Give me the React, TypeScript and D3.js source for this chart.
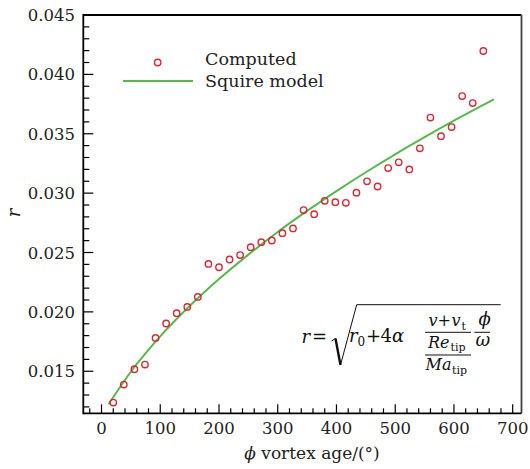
import React from "react";
import * as d3 from "d3";

const phiComputed = [20, 38, 56, 74, 92, 110, 128, 146, 164, 182, 200, 218, 236, 254, 272, 290, 308, 326, 344, 362, 380, 398, 416, 434, 452, 470, 488, 506, 524, 542, 560, 578, 596, 614, 632, 650];
const rComputed = [0.01236, 0.01388, 0.01517, 0.01556, 0.01781, 0.01902, 0.01989, 0.02042, 0.02126, 0.02404, 0.02376, 0.02441, 0.02478, 0.02545, 0.02587, 0.02601, 0.02663, 0.02703, 0.02857, 0.02823, 0.02935, 0.02924, 0.02918, 0.03003, 0.03099, 0.03056, 0.03211, 0.03259, 0.0320, 0.03377, 0.03636, 0.0348, 0.03556, 0.03817, 0.03758, 0.04197];

const phiModel = [12, 50, 100, 150, 200, 250, 300, 350, 400, 450, 500, 550, 600, 650, 668];
const rModel = [0.01222, 0.01496, 0.01794, 0.02049, 0.02276, 0.02482, 0.02673, 0.0285, 0.03017, 0.03176, 0.03327, 0.03471, 0.0361, 0.03743, 0.0379];

const xMajorTicks = [0, 100, 200, 300, 400, 500, 600, 700];
const yMajorTicks = [0.015, 0.02, 0.025, 0.03, 0.035, 0.04, 0.045];
const yTickLabels = ["0.015", "0.020", "0.025", "0.030", "0.035", "0.040", "0.045"];

const seriesNames = ["Computed", "Squire model"];
const xTitle = "vortex age/(°)";
const yTitle = "r";

const W = 530, H = 469;
const L = 83.3, R = 521.5, T = 15, B = 413.3;
const RED = "#d42a35";
const GREEN = "#55b84a";
const FONT = "'DejaVu Serif', serif";

export default function App() {
  const x = d3.scaleLinear().domain([-31, 715]).range([L, R]);
  const y = d3.scaleLinear().domain([0.01146, 0.045]).range([B, T]);

  const xMinor = d3.range(-20, 701, 20).filter((v) => v % 100 !== 0);
  const yMinor = d3.range(12, 45, 1).map((v) => v / 1000).filter((v) => Math.round(v * 1000) % 5 !== 0);

  const line = d3
    .line<number>()
    .x((_, i) => x(phiModel[i]))
    .y((d) => y(d))
    .curve(d3.curveMonotoneX);

  const txt = { fontFamily: FONT };

  return (
    <svg width={W} height={H} style={{ position: "absolute", left: 0, top: 0, fontFamily: FONT }}>
      <rect x={0} y={0} width={W} height={H} fill="#fff" />
      <path d={line(rModel) || ""} fill="none" stroke={GREEN} strokeWidth={2} />
      {phiComputed.map((p, i) => (
        <circle key={i} cx={x(p)} cy={y(rComputed[i])} r={3.2} fill="none" stroke={RED} strokeWidth={1.4} />
      ))}
      <line x1={L} y1={T} x2={R} y2={T} stroke="#000" strokeWidth={1.8} />
      <line x1={R} y1={T} x2={R} y2={B} stroke="#444" strokeWidth={1.8} />
      <line x1={L} y1={T - 0.9} x2={L} y2={B + 0.9} stroke="#000" strokeWidth={1.8} />
      <line x1={L} y1={B} x2={R} y2={B} stroke="#000" strokeWidth={1.8} />
      {xMajorTicks.map((t) => (
        <g key={"xm" + t}>
          <line x1={x(t)} x2={x(t)} y1={B} y2={B - 9} stroke="#000" strokeWidth={1.2} />
          <text x={x(t)} y={434} textAnchor="middle" fontSize={16.5} fill="#222" style={txt}>{t}</text>
        </g>
      ))}
      {xMinor.map((t) => (
        <line key={"xn" + t} x1={x(t)} x2={x(t)} y1={B} y2={B - 5} stroke="#000" strokeWidth={1.2} />
      ))}
      {yMajorTicks.map((t, i) => (
        <g key={"ym" + t}>
          <line x1={L} x2={L + 10} y1={y(t)} y2={y(t)} stroke="#000" strokeWidth={1.2} />
          <text x={75} y={y(t) + 6} textAnchor="end" fontSize={16.5} fill="#222" style={txt}>{yTickLabels[i]}</text>
        </g>
      ))}
      {yMinor.map((t) => (
        <line key={"yn" + t} x1={L} x2={L + 6} y1={y(t)} y2={y(t)} stroke="#000" strokeWidth={1.2} />
      ))}
      <text x={312} y={459} textAnchor="middle" fontSize={17} fill="#222" style={txt}>
        <tspan fontStyle="italic">ϕ</tspan> {xTitle}
      </text>
      <text transform="translate(20,213) rotate(-90)" textAnchor="middle" fontSize={18} fontStyle="italic" fill="#222" style={txt}>{yTitle}</text>
      <circle cx={157.7} cy={62.5} r={3.2} fill="none" stroke={RED} strokeWidth={1.4} />
      <text x={205} y={65} fontSize={17.5} fill="#222" style={txt}>{seriesNames[0]}</text>
      <line x1={123} x2={193} y1={81} y2={81} stroke={GREEN} strokeWidth={2} />
      <text x={205} y={87} fontSize={17.5} fill="#222" style={txt}>{seriesNames[1]}</text>
      <g fill="#111" fontSize={18} style={txt}>
        <text x={301.5} y={343} fontStyle="italic">r</text>
        <text x={312} y={343}>=</text>
        <path d="M331.5,341 L335.5,338.5 L340.5,365 L356.7,304.7 L500.7,304.7" fill="none" stroke="#111" strokeWidth={1} />
        <path d="M335.5,338.5 L340.5,365" fill="none" stroke="#111" strokeWidth={2.4} />
        <text x={349} y={342} fontStyle="italic">r</text>
        <text x={357.5} y={346} fontSize={12}>0</text>
        <text x={366} y={342}>+</text>
        <text x={380.5} y={342}>4</text>
        <text x={392} y={342} fontStyle="italic">α</text>
        <g fontSize={16}>
          <text x={428.5} y={326} fontStyle="italic">v</text>
          <text x={437.5} y={326}>+</text>
          <text x={451.5} y={326} fontStyle="italic">v</text>
          <text x={461.5} y={329.5} fontSize={11}>t</text>
          <line x1={425} x2={471} y1={332.3} y2={332.3} stroke="#111" strokeWidth={1} />
          <text x={428} y={347.5} fontStyle="italic">Re</text>
          <text x={450.5} y={351} fontSize={11}>tip</text>
          <line x1={425} x2={471} y1={355} y2={355} stroke="#111" strokeWidth={1} />
          <text x={425.5} y={370} fontStyle="italic">Ma</text>
          <text x={452} y={373.5} fontSize={11}>tip</text>
        </g>
        <text x={478.5} y={325} fontStyle="italic">ϕ</text>
        <line x1={474.3} x2={490} y1={332.3} y2={332.3} stroke="#111" strokeWidth={1} />
        <text x={475.5} y={346} fontStyle="italic">ω</text>
      </g>
    </svg>
  );
}
